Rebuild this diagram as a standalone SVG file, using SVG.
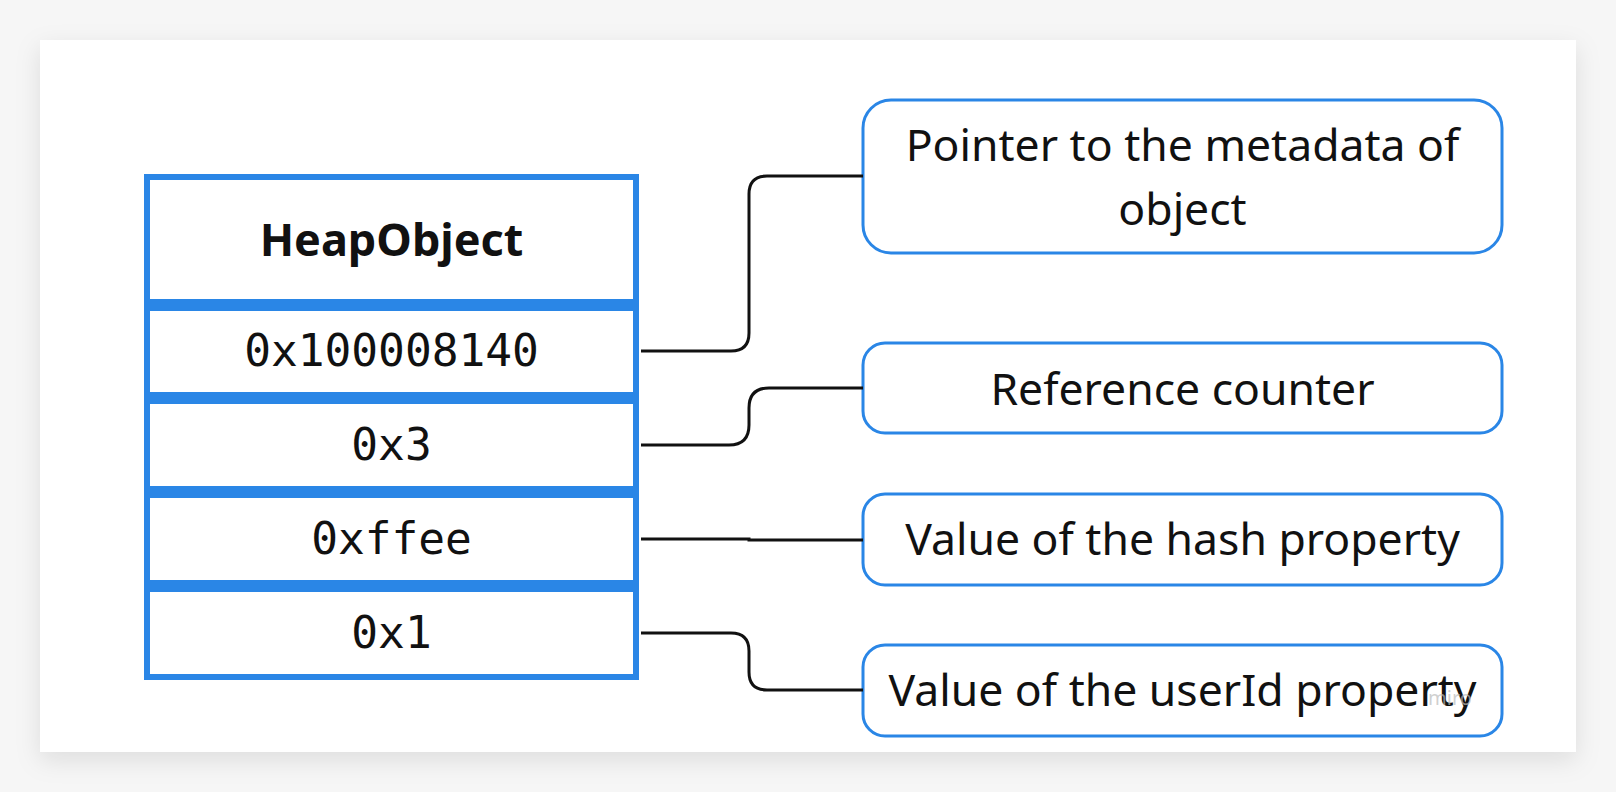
<svg xmlns="http://www.w3.org/2000/svg" width="1616" height="792" viewBox="0 0 1616 792">
  <defs>
    <filter id="shadow" x="-5%" y="-5%" width="110%" height="115%">
      <feDropShadow dx="0" dy="8" stdDeviation="12" flood-color="#000" flood-opacity="0.10"/>
    </filter>
    <style>
      .row { fill: #ffffff; stroke: #2a86e6; stroke-width: 6; }
      .note { fill: #ffffff; stroke: #2a86e6; stroke-width: 3; }
      .mono { font-family: "DejaVu Sans Mono", "Liberation Mono", monospace; font-size: 44.5px; fill: #111; text-anchor: middle; }
      .title { font-family: "Noto Sans", "Open Sans", sans-serif; font-weight: bold; font-size: 45px; fill: #111; text-anchor: middle; }
      .label { font-family: "Noto Sans", "Open Sans", sans-serif; font-size: 44.5px; fill: #111; text-anchor: middle; }
      .conn { fill: none; stroke: #111; stroke-width: 3; }
    </style>
  </defs>
  <rect x="0" y="0" width="1616" height="792" fill="#f6f6f6"/>
  <rect x="40" y="40" width="1536" height="712" fill="#ffffff" filter="url(#shadow)"/>

  <g id="heap-header">
    <rect class="row" x="147" y="177" width="489" height="125"/>
    <text class="title" x="391.5" y="256">HeapObject</text>
  </g>
  <g id="row-metadata">
    <rect class="row" x="147" y="308" width="489" height="87"/>
    <text class="mono" x="391.5" y="366">0x100008140</text>
  </g>
  <g id="row-refcount">
    <rect class="row" x="147" y="401" width="489" height="88"/>
    <text class="mono" x="391.5" y="460">0x3</text>
  </g>
  <g id="row-hash">
    <rect class="row" x="147" y="495" width="489" height="88"/>
    <text class="mono" x="391.5" y="554">0xffee</text>
  </g>
  <g id="row-userid">
    <rect class="row" x="147" y="589" width="489" height="88"/>
    <text class="mono" x="391.5" y="648">0x1</text>
  </g>

  <g id="note-metadata">
    <rect class="note" x="863" y="100" width="639" height="153" rx="28"/>
    <text class="label" x="1182.5" y="161">Pointer to the metadata of</text>
    <text class="label" x="1182.5" y="225">object</text>
  </g>
  <g id="note-refcount">
    <rect class="note" x="863" y="343" width="639" height="90" rx="22"/>
    <text class="label" x="1182.5" y="405">Reference counter</text>
  </g>
  <g id="note-hash">
    <rect class="note" x="863" y="494" width="639" height="91" rx="22"/>
    <text class="label" x="1182.5" y="555">Value of the hash property</text>
  </g>
  <g id="note-userid">
    <rect class="note" x="863" y="645" width="639" height="91" rx="22"/>
    <text class="label" x="1182.5" y="706">Value of the userId property</text>
    <text x="1450" y="705" font-family="Noto Sans, sans-serif" font-size="20" fill="#bbbbbb" fill-opacity="0.7" text-anchor="middle">miro</text>
  </g>

  <g id="connectors">
    <path class="conn" d="M641,351 H731 Q749,351 749,333 V194 Q749,176 767,176 H863"/>
    <path class="conn" d="M641,445 H729 Q749,445 749,425 V408 Q749,388 769,388 H863"/>
    <path class="conn" d="M641,539 H749 V540 H863"/>
    <path class="conn" d="M641,633 H731 Q749,633 749,651 V672 Q749,690 767,690 H863"/>
  </g>
</svg>
